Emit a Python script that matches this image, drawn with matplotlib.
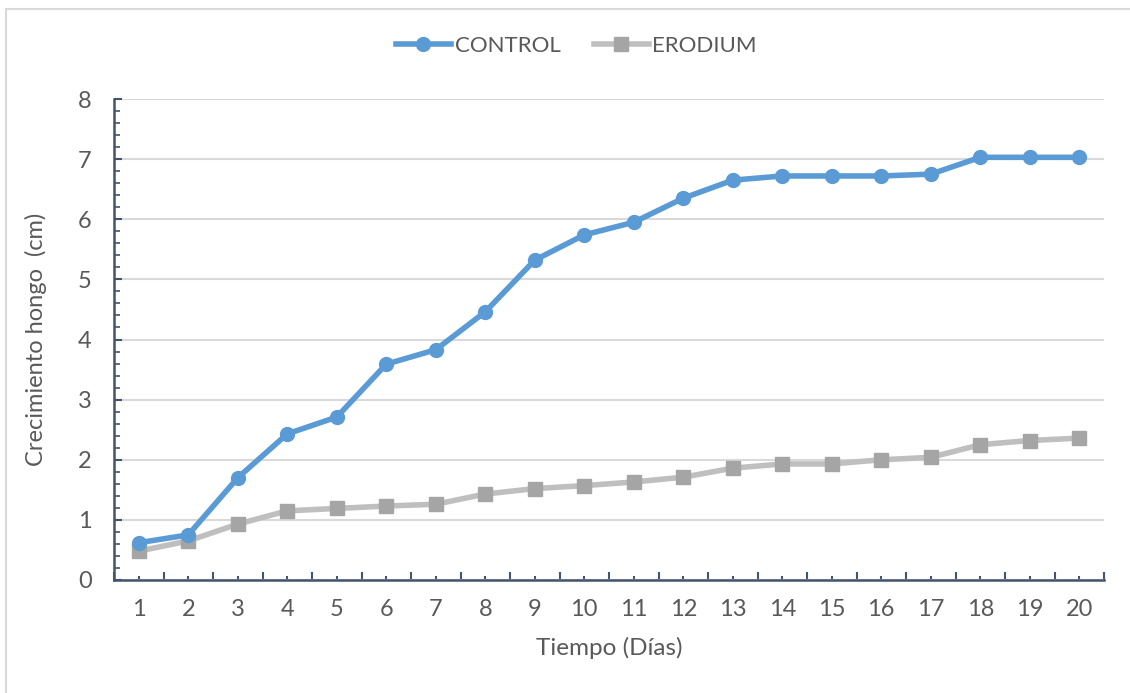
import matplotlib
matplotlib.use("Agg")
import matplotlib.pyplot as plt
from matplotlib.ticker import MultipleLocator, FixedLocator, NullFormatter
from matplotlib.patches import Rectangle

dias = list(range(1, 21))
control = [0.62, 0.75, 1.70, 2.43, 2.71, 3.59, 3.83, 4.46, 5.32, 5.74,
           5.95, 6.35, 6.65, 6.72, 6.72, 6.72, 6.75, 7.03, 7.03, 7.03]
erodium = [0.48, 0.65, 0.93, 1.15, 1.19, 1.23, 1.26, 1.43, 1.52, 1.57,
           1.63, 1.71, 1.86, 1.93, 1.93, 2.00, 2.04, 2.25, 2.32, 2.36]

text_col = "#595959"
axis_col = "#44546A"
fs = 17
plt.rcParams["font.family"] = ["Lato", "DejaVu Sans"]

fig = plt.figure(figsize=(11.3, 6.93), dpi=100)

# outer chart border (right/bottom edges fall outside the picture)
fig.patches.append(Rectangle((6 / 1130, -0.05), 1.2, 1 - 9 / 693 + 0.05,
                             transform=fig.transFigure, fill=False,
                             edgecolor="#D9D9D9", linewidth=1.5, zorder=0))

ax = fig.add_axes([114 / 1130, 1 - 580 / 693, (1104 - 114) / 1130, (580 - 99) / 693])
ax.patch.set_alpha(0)

ax.plot(dias, control, color="#5B9BD5", linewidth=4, marker="o",
        markersize=10, label="CONTROL", zorder=4)
ax.plot(dias, erodium, color="#BFBFBF", linewidth=4, marker="s",
        markersize=10.5, markerfacecolor="#A5A5A5", markeredgecolor="#A5A5A5",
        label="ERODIUM", zorder=3)

ax.set_xlim(0.5, 20.5)
ax.set_ylim(0, 8)

ax.xaxis.set_major_locator(FixedLocator(dias))
ax.xaxis.set_minor_locator(FixedLocator([d - 0.5 for d in dias] + [20.5]))
ax.xaxis.set_minor_formatter(NullFormatter())
ax.yaxis.set_major_locator(MultipleLocator(1))
ax.yaxis.set_minor_locator(MultipleLocator(0.2))

ax.tick_params(axis="x", which="major", direction="in", length=3, width=1.5,
               color=axis_col, labelsize=fs, labelcolor=text_col, pad=14)
ax.tick_params(axis="x", which="minor", direction="in", length=6, width=1.5,
               color=axis_col)
ax.tick_params(axis="y", which="major", direction="in", length=6, width=1.5,
               color=axis_col, labelsize=fs, labelcolor=text_col, pad=16)
ax.tick_params(axis="y", which="minor", direction="in", length=4.5, width=1.2,
               color=axis_col)

ax.grid(axis="y", which="major", color="#D9D9D9", linewidth=1.5, zorder=0)
ax.set_axisbelow(True)

for s in ["top", "right"]:
    ax.spines[s].set_visible(False)
for s in ["left", "bottom"]:
    ax.spines[s].set_color(axis_col)
    ax.spines[s].set_linewidth(1.8)

ax.set_xlabel("Tiempo (Días)", fontsize=fs + 0.5, color=text_col, labelpad=12)
ax.set_ylabel("Crecimiento hongo  (cm)", fontsize=fs, color=text_col, labelpad=22)

fig.legend(loc="center", bbox_to_anchor=(0.51, 1 - 46 / 693), ncol=2,
           frameon=False, fontsize=fs - 1, labelcolor=text_col, handlelength=2.5,
           columnspacing=1.5, handletextpad=0.15)

fig.savefig("out.png", dpi=100)
